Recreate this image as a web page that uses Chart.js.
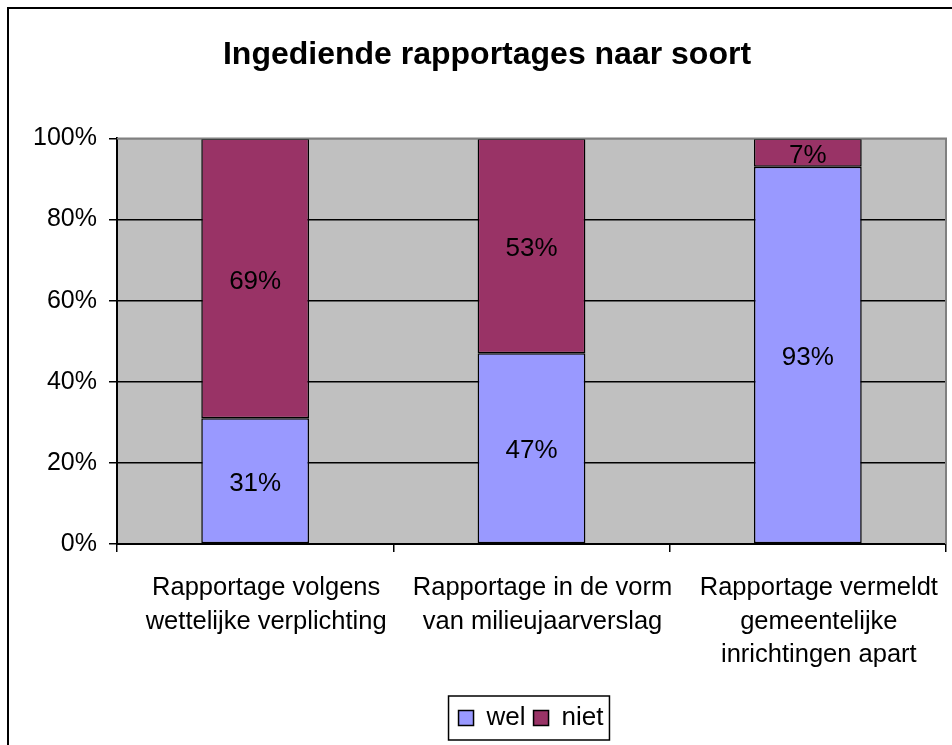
<!DOCTYPE html>
<html>
<head>
<meta charset="utf-8">
<script src="https://cdn.jsdelivr.net/npm/chart.js@4/dist/chart.umd.min.js"></script>
<style>
  html, body { margin: 0; padding: 0; background: #fff; }
  #wrap { width: 952px; height: 745px; position: relative; }
</style>
</head>
<body>
<div id="wrap"><canvas id="chart" width="952" height="745"></canvas></div>
<script>
const FONT = "'Liberation Sans', Arial, sans-serif";

const categories = [
  ['Rapportage volgens', 'wettelijke verplichting'],
  ['Rapportage in de vorm', 'van milieujaarverslag'],
  ['Rapportage vermeldt', 'gemeentelijke', 'inrichtingen apart'],
];
const welValues = [31, 47, 93];
const nietValues = [69, 53, 7];
const yTicks = [0, 20, 40, 60, 80, 100];

Chart.defaults.font.family = FONT;
Chart.defaults.color = '#000';

// grey plot background + grey top/right border + outer frame
const plotFrame = {
  id: 'plotFrame',
  afterLayout(chart) {
    // excel puts the legend a bit right of centre
    const lg = chart.legend;
    const dx = 44;
    lg.left += dx;
    lg.right += dx;
    (lg.legendHitBoxes || []).forEach(b => { b.left += dx; });
  },
  beforeDraw(chart) {
    const { ctx, chartArea: a } = chart;
    ctx.save();
    ctx.fillStyle = '#fff';
    ctx.fillRect(0, 0, chart.width, chart.height);
    ctx.fillStyle = '#C0C0C0';
    ctx.fillRect(a.left, a.top, a.right - a.left, a.bottom - a.top);
    ctx.strokeStyle = '#000';
    ctx.lineWidth = 2;
    ctx.strokeRect(8, 8, 1000, 1000);
    ctx.restore();
  },
  afterDraw(chart) {
    const { ctx, chartArea: a } = chart;
    ctx.save();
    ctx.strokeStyle = '#808080';
    ctx.lineWidth = 2;
    ctx.beginPath();
    ctx.moveTo(a.left, a.top);
    ctx.lineTo(a.right, a.top);
    ctx.lineTo(a.right, a.bottom);
    ctx.stroke();
    // legend border
    const boxes = chart.legend.legendHitBoxes;
    if (boxes && boxes.length) {
      const l = Math.min(...boxes.map(b => b.left)) - 10;
      const r = Math.max(...boxes.map(b => b.left + b.width)) + 6;
      const t = Math.min(...boxes.map(b => b.top)) - 9;
      const bt = Math.max(...boxes.map(b => b.top + b.height)) + 9;
      ctx.strokeStyle = '#000';
      ctx.lineWidth = 1.5;
      ctx.strokeRect(l, t, r - l, bt - t);
    }
    ctx.restore();
  },
};

// value labels centred in each segment
const segLabels = {
  id: 'segLabels',
  afterDatasetsDraw(chart) {
    const { ctx } = chart;
    ctx.save();
    ctx.font = `26px ${FONT}`;
    ctx.fillStyle = '#000';
    ctx.textAlign = 'center';
    ctx.textBaseline = 'middle';
    chart.data.datasets.forEach((ds, i) => {
      chart.getDatasetMeta(i).data.forEach((bar, j) => {
        const y = (bar.y + bar.base) / 2 + 3;
        ctx.fillText(ds.data[j] + '%', bar.x, y);
      });
    });
    ctx.restore();
  },
};

new Chart(document.getElementById('chart'), {
  type: 'bar',
  data: {
    labels: categories,
    datasets: [
      { label: 'wel', data: welValues, backgroundColor: '#9999FF', borderColor: '#000', borderWidth: 1.5, borderSkipped: false },
      { label: 'niet', data: nietValues, backgroundColor: '#993366', borderColor: '#000', borderWidth: 1.5, borderSkipped: false },
    ],
  },
  options: {
    responsive: false,
    animation: false,
    categoryPercentage: 1,
    barPercentage: 0.39,
    layout: { padding: { left: 28, right: 6, top: 0, bottom: 4 } },
    plugins: {
      title: {
        display: true,
        text: 'Ingediende rapportages naar soort',
        font: { size: 32, weight: 'bold' },
        color: '#000',
        padding: { top: 36, bottom: 64 },
      },
      legend: {
        position: 'bottom',
        labels: { boxWidth: 15, boxHeight: 15, font: { size: 26 }, color: '#000', padding: 8 },
      },
      tooltip: { enabled: false },
    },
    scales: {
      x: {
        stacked: true,
        grid: { drawOnChartArea: false, offset: true, color: '#000', tickLength: 8, lineWidth: 1.5 },
        border: { color: '#000', width: 2 },
        ticks: { font: { size: 25.5, lineHeight: 1.32 }, color: '#000', padding: 19, labelOffset: 11, maxRotation: 0 },
        afterFit: (s) => { s.height = 153; },
      },
      y: {
        stacked: true,
        min: 0,
        max: 100,
        afterBuildTicks: (s) => { s.ticks = yTicks.map(v => ({ value: v })); },
        grid: {
          color: (c) => c.tick && c.tick.value === 100 ? '#808080' : '#000',
          tickColor: '#000',
          tickLength: 8,
          lineWidth: 1.5,
        },
        border: { color: '#000', width: 2 },
        ticks: { font: { size: 25 }, color: '#000', padding: 12, callback: (v) => v + '%' },
        afterFit: (s) => { s.width = 89; },
      },
    },
  },
  plugins: [plotFrame, segLabels],
});
</script>
</body>
</html>
